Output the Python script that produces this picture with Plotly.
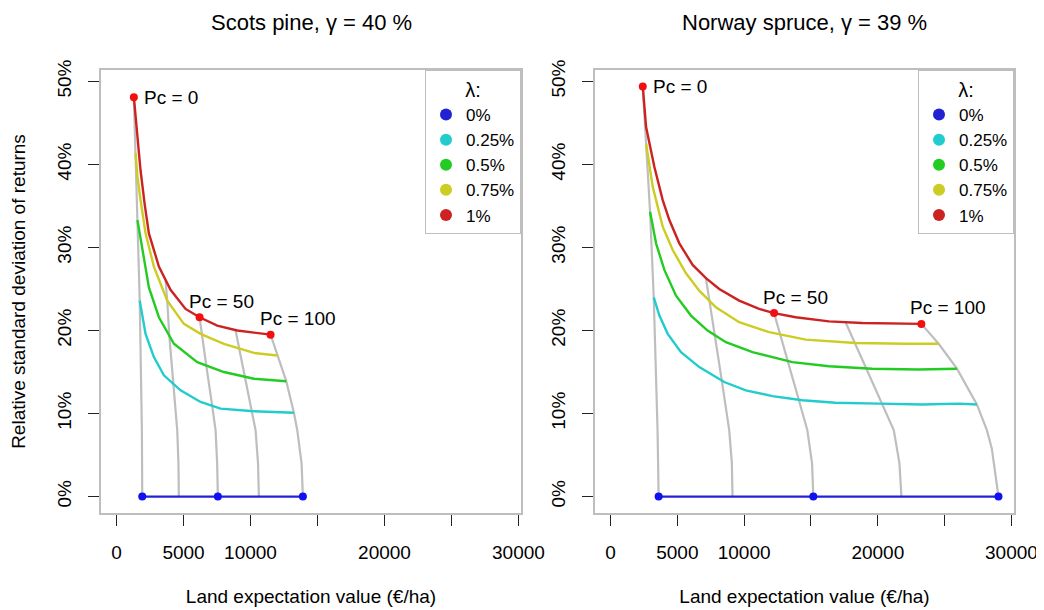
import plotly.graph_objects as go

FONT = "Liberation Sans, Arial, Helvetica, sans-serif"
FS = 19

LAMBDA_LABELS = ["0%", "0.25%", "0.5%", "0.75%", "1%"]
LINE_COLORS = ["#2222D4", "#22CCCC", "#22CC22", "#CCCC22", "#CC2222"]
POINT_RED = "#F01010"
POINT_BLUE = "#1010F0"
GRAY = "#BEBEBE"

# ---------------- Scots pine (left panel) ----------------
pine_l000_x = [1918, 7563, 13909]
pine_l000_y = [0, 0, 0]
pine_l025_x = [1730, 2165, 2787, 3534, 4778, 6271, 7765, 10005, 13240]
pine_l025_y = [23.6, 19.6, 16.8, 14.6, 12.8, 11.4, 10.6, 10.3, 10.1]
pine_l050_x = [1560, 1916, 2414, 3161, 4281, 6023, 8014, 10253, 12667]
pine_l050_y = [33.3, 29.7, 25.2, 21.6, 18.4, 16.2, 15.0, 14.2, 13.9]
pine_l075_x = [1419, 1560, 1792, 2165, 2787, 3783, 5027, 6271, 8014, 10253, 11996]
pine_l075_y = [41.4, 38.5, 35.7, 31.7, 27.7, 23.6, 20.8, 19.6, 18.4, 17.3, 17.0]
pine_l100_x = [1292, 1490, 1790, 2100, 2414, 3160, 4030, 5150, 6197, 7516, 9010, 11498]
pine_l100_y = [48.1, 44.5, 39.3, 35.2, 31.7, 27.7, 24.9, 22.6, 21.6, 20.6, 20.0, 19.5]

# iso-Pc lines (from lambda = 1% down to lambda = 0)
pine_pc000_x = [1292, 1419, 1560, 1730, 1890, 1918]
pine_pc000_y = [48.1, 41.4, 33.3, 23.6, 8.0, 0]
pine_pc025_x = [3658, 3783, 3932, 4231, 4530, 4620, 4650]
pine_pc025_y = [26.0, 23.6, 19.5, 13.7, 8.0, 4.0, 0]
pine_pc050_x = [6197, 6371, 6695, 7143, 7391, 7510, 7563]
pine_pc050_y = [21.6, 19.5, 15.8, 10.9, 8.0, 4.0, 0]
pine_pc075_x = [8885, 9158, 9581, 10079, 10378, 10560, 10624]
pine_pc075_y = [20.0, 17.8, 14.5, 10.4, 8.0, 4.0, 0]
pine_pc100_x = [11498, 11996, 12667, 13240, 13489, 13812, 13909]
pine_pc100_y = [19.5, 17.0, 13.9, 10.1, 8.0, 4.0, 0]

pine_mark_red_x = [1292, 6197, 11498]
pine_mark_red_y = [48.1, 21.6, 19.5]
pine_mark_blue_x = [1918, 7563, 13909]
pine_mark_blue_y = [0, 0, 0]

# ---------------- Norway spruce (right panel) ----------------
spruce_l000_x = [3600, 15174, 29030]
spruce_l000_y = [0, 0, 0]
spruce_l025_x = [3234, 3657, 4279, 5274, 6642, 8508, 10125, 12115, 14355, 16841, 20075, 23309, 26045, 27413]
spruce_l025_y = [24.0, 21.8, 19.6, 17.4, 15.6, 13.8, 12.8, 12.1, 11.6, 11.3, 11.2, 11.1, 11.2, 11.1]
spruce_l050_x = [2960, 3408, 4030, 4901, 6020, 7264, 8632, 10623, 13608, 16344, 19578, 23060, 25921]
spruce_l050_y = [34.3, 30.5, 27.3, 24.2, 21.8, 20.0, 18.6, 17.4, 16.2, 15.7, 15.4, 15.3, 15.4]
spruce_l075_x = [2662, 3159, 3408, 3906, 4652, 5647, 6642, 7886, 9627, 11866, 14602, 18333, 22065, 24553]
spruce_l075_y = [42.5, 37.3, 35.7, 32.5, 29.7, 26.9, 24.8, 22.8, 21.0, 19.8, 18.9, 18.5, 18.4, 18.4]
spruce_l100_x = [2413, 2662, 3284, 3906, 4403, 5149, 6145, 7140, 8135, 9627, 11120, 12239, 13856, 16344, 18831, 21319, 23259]
spruce_l100_y = [49.4, 44.5, 39.7, 35.7, 33.3, 30.5, 27.9, 26.3, 25.0, 23.6, 22.6, 22.1, 21.6, 21.1, 20.9, 20.8, 20.8]

spruce_pc000_x = [2413, 2662, 2960, 3234, 3520, 3600]
spruce_pc000_y = [49.4, 42.5, 34.3, 24.0, 8.0, 0]
spruce_pc025_x = [7140, 7388, 7786, 8334, 8881, 9080, 9129]
spruce_pc025_y = [26.3, 23.6, 19.5, 13.9, 8.0, 4.0, 0]
spruce_pc050_x = [12239, 12712, 13284, 14080, 14727, 15080, 15174]
spruce_pc050_y = [22.1, 19.5, 16.3, 11.7, 8.0, 4.0, 0]
spruce_pc075_x = [17588, 18284, 19130, 20299, 21194, 21620, 21766]
spruce_pc075_y = [21.0, 18.5, 15.4, 11.2, 8.0, 4.0, 0]
spruce_pc100_x = [23259, 24553, 25921, 27413, 28160, 28530, 29030]
spruce_pc100_y = [20.8, 18.4, 15.4, 11.1, 8.0, 5.8, 0]

spruce_mark_red_x = [2413, 12239, 23259]
spruce_mark_red_y = [49.4, 22.1, 20.8]
spruce_mark_blue_x = [3600, 15174, 29030]
spruce_mark_blue_y = [0, 0, 0]

# ---------------- axes ----------------
x_tickvals = [0, 5000, 10000, 15000, 20000, 25000, 30000]
x_ticktext = ["0", "5000", "10000", "", "20000", "", "30000"]
y_tickvals = [0, 10, 20, 30, 40, 50]
y_ticktext = ["0%", "10%", "20%", "30%", "40%", "50%"]
x_range = [-1161, 30191]
y_range = [-1.976, 51.376]

titles = ["Scots pine, γ = 40 %", "Norway spruce, γ = 39 %"]

fig = go.Figure()


def add_panel(xa, ya, leg, curves, grays, red_pts, blue_pts):
    for gx, gy in grays:
        fig.add_trace(go.Scatter(x=gx, y=gy, mode="lines", xaxis=xa, yaxis=ya,
                                 line=dict(color=GRAY, width=2.2), showlegend=False,
                                 hoverinfo="skip"))
    for (cx, cy), col in zip(curves, LINE_COLORS):
        fig.add_trace(go.Scatter(x=cx, y=cy, mode="lines", xaxis=xa, yaxis=ya,
                                 line=dict(color=col, width=2.4), showlegend=False))
    fig.add_trace(go.Scatter(x=blue_pts[0], y=blue_pts[1], mode="markers", xaxis=xa, yaxis=ya,
                             marker=dict(color=POINT_BLUE, size=8), showlegend=False))
    fig.add_trace(go.Scatter(x=red_pts[0], y=red_pts[1], mode="markers", xaxis=xa, yaxis=ya,
                             marker=dict(color=POINT_RED, size=8), showlegend=False))
    for lab, col in zip(LAMBDA_LABELS, LINE_COLORS):
        fig.add_trace(go.Scatter(x=[None], y=[None], mode="markers", xaxis=xa, yaxis=ya,
                                 marker=dict(color=col, size=9), name=lab, legend=leg,
                                 showlegend=True))
    xr = "x" if xa == "x" else "x2"
    yr = "y" if ya == "y" else "y2"
    fig.add_annotation(x=red_pts[0][0], y=red_pts[1][0], xref=xr, yref=yr, text="Pc = 0",
                       showarrow=False, xanchor="left", yanchor="middle", xshift=8,
                       font=dict(size=FS, family=FONT, color="black"))
    for i, t in [(1, "Pc = 50"), (2, "Pc = 100")]:
        fig.add_annotation(x=red_pts[0][i], y=red_pts[1][i], xref=xr, yref=yr, text=t,
                           showarrow=False, xanchor="left", yanchor="middle",
                           xshift=-13, yshift=16,
                           font=dict(size=FS, family=FONT, color="black"))


add_panel("x", "y", "legend",
          [(pine_l000_x, pine_l000_y), (pine_l025_x, pine_l025_y), (pine_l050_x, pine_l050_y),
           (pine_l075_x, pine_l075_y), (pine_l100_x, pine_l100_y)],
          [(pine_pc000_x, pine_pc000_y), (pine_pc025_x, pine_pc025_y), (pine_pc050_x, pine_pc050_y),
           (pine_pc075_x, pine_pc075_y), (pine_pc100_x, pine_pc100_y)],
          (pine_mark_red_x, pine_mark_red_y), (pine_mark_blue_x, pine_mark_blue_y))

add_panel("x2", "y2", "legend2",
          [(spruce_l000_x, spruce_l000_y), (spruce_l025_x, spruce_l025_y), (spruce_l050_x, spruce_l050_y),
           (spruce_l075_x, spruce_l075_y), (spruce_l100_x, spruce_l100_y)],
          [(spruce_pc000_x, spruce_pc000_y), (spruce_pc025_x, spruce_pc025_y), (spruce_pc050_x, spruce_pc050_y),
           (spruce_pc075_x, spruce_pc075_y), (spruce_pc100_x, spruce_pc100_y)],
          (spruce_mark_red_x, spruce_mark_red_y), (spruce_mark_blue_x, spruce_mark_blue_y))

# page body has an 8px default margin: compensate so the plot box lands at 101..1014 x 70..513
W, H = 1044, 610
PW, PH = 913, 443
ML, MT = 93, 62
MR = W - ML - PW
MB = H - MT - PH
left_dom = [0, 420 / PW]
right_dom = [494 / PW, 1]

axis_common = dict(showline=True, linecolor=GRAY, linewidth=2, mirror=True,
                   ticks="outside", ticklen=11, tickcolor="#222222", tickwidth=1,
                   showgrid=False, zeroline=False,
                   tickfont=dict(size=FS, family=FONT, color="black"))

xaxis_common = dict(axis_common, range=x_range, tickvals=x_tickvals, ticktext=x_ticktext,
                    ticklabelstandoff=10,
                    title=dict(text="Land expectation value (€/ha)",
                               font=dict(size=FS, family=FONT, color="black"), standoff=28))
yaxis_common = dict(axis_common, range=y_range, tickvals=y_tickvals, ticktext=y_ticktext,
                    tickangle=-90, ticklabelstandoff=9)

LFS = 17
legend_common = dict(xanchor="right", y=1, yanchor="top", bgcolor="white",
                     bordercolor=GRAY, borderwidth=1,
                     font=dict(size=LFS, family=FONT, color="black"),
                     title=dict(text="λ:", side="top center",
                                font=dict(size=20, family=FONT, color="black")),
                     itemwidth=30, tracegroupgap=0, itemsizing="constant")

fig.update_layout(
    width=W, height=H,
    margin=dict(l=ML, r=MR, t=MT, b=MB, autoexpand=False),
    paper_bgcolor="white", plot_bgcolor="white",
    font=dict(family=FONT, size=FS, color="black"),
    xaxis=dict(xaxis_common, domain=left_dom, anchor="y"),
    yaxis=dict(yaxis_common, domain=[0, 1], anchor="x",
               title=dict(text="Relative standard deviation of returns",
                          font=dict(size=FS, family=FONT, color="black"), standoff=27)),
    xaxis2=dict(xaxis_common, domain=right_dom, anchor="y2"),
    yaxis2=dict(yaxis_common, domain=[0, 1], anchor="x2"),
    legend=dict(legend_common, x=left_dom[1]),
    legend2=dict(legend_common, x=right_dom[1]),
    showlegend=True,
)

for dom, t in zip([left_dom, right_dom], titles):
    fig.add_annotation(x=(dom[0] + dom[1]) / 2, y=1 + 48 / PH, xref="paper", yref="paper",
                       text=t, showarrow=False, xanchor="center", yanchor="middle",
                       font=dict(size=22, family=FONT, color="black"))

fig.write_html("out.html")
